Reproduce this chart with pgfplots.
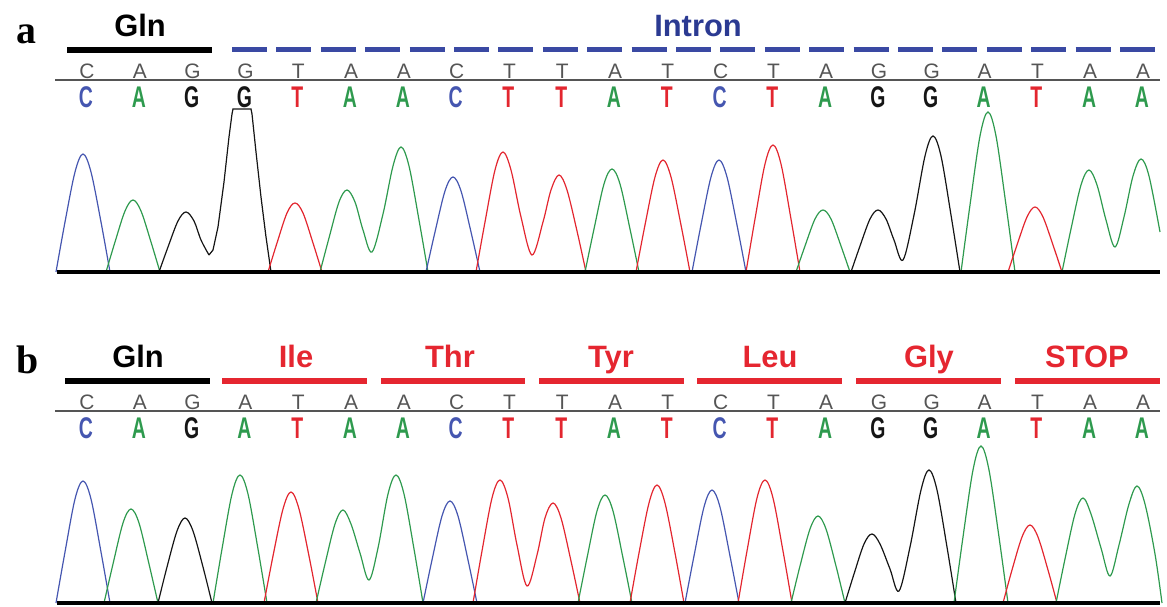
\documentclass[border=0pt]{standalone}
\usepackage{pgfplots}
\pgfplotsset{compat=1.18}
\usepackage{fontspec}
\setmainfont{Liberation Sans}
\newfontfamily\lserif{Liberation Serif}
\newfontfamily\condfont{Liberation Sans}[FakeStretch=0.65]
\definecolor{cA}{HTML}{2E9A4E}
\definecolor{cC}{HTML}{4556B0}
\definecolor{cG}{HTML}{151515}
\definecolor{cT}{HTML}{E3262F}
\definecolor{ibar}{HTML}{3A49A3}
\definecolor{itext}{HTML}{2B3A92}
\definecolor{rbar}{HTML}{E52630}
\definecolor{tgray}{HTML}{555555}
\pgfplotsset{pk/.style={smooth, tension=0.55, line width=1.2bp, no markers},
  pks/.style={sharp plot, line width=1.2bp, no markers}}
\newcommand\TL[3]{\node[anchor=base, inner sep=0pt, text=tgray, font=\fontsize{21}{21}\selectfont] at (axis cs:#1,#2) {#3};}
\newcommand\CL[4]{\node[anchor=base, inner sep=0pt, text=#4, font=\condfont\bfseries\fontsize{30}{30}\selectfont] at (axis cs:#1,#2) {#3};}
\begin{document}
\begin{tikzpicture}
\useasboundingbox (0,0) rectangle (1167bp,607bp);
% ---------------- canvas: labels, bars, sequence rows ----------------
\begin{axis}[at={(0,0)}, anchor=south west, x=1bp, y=1bp, y dir=reverse,
  xmin=0, xmax=1167, ymin=0, ymax=607, hide axis, clip=false]
% panel labels
\node[anchor=base, inner sep=0pt, font=\lserif\bfseries\fontsize{40}{40}\selectfont] at (axis cs:26,43) {a};
\node[anchor=base, inner sep=0pt, font=\lserif\bfseries\fontsize{40}{40}\selectfont] at (axis cs:28,373) {b};
% panel a codon labels and bars
\node[anchor=base, inner sep=0pt, font=\bfseries\fontsize{31}{31}\selectfont] at (axis cs:140,36) {Gln};
\node[anchor=base, inner sep=0pt, text=itext, font=\bfseries\fontsize{31}{31}\selectfont] at (axis cs:698,36) {Intron};
\addplot[black, line width=6bp] coordinates {(67,50) (212,50)};
\addplot[ibar, line width=5bp, dash pattern=on 35bp off 9.4bp] coordinates {(232,49) (1160,49)};
% panel b codon labels and bars
\node[anchor=base, inner sep=0pt, font=\bfseries\fontsize{31}{31}\selectfont] at (axis cs:138,367) {Gln};
\node[anchor=base, inner sep=0pt, text=rbar, font=\bfseries\fontsize{31}{31}\selectfont] at (axis cs:296,367) {Ile};
\node[anchor=base, inner sep=0pt, text=rbar, font=\bfseries\fontsize{31}{31}\selectfont] at (axis cs:450,367) {Thr};
\node[anchor=base, inner sep=0pt, text=rbar, font=\bfseries\fontsize{31}{31}\selectfont] at (axis cs:611,367) {Tyr};
\node[anchor=base, inner sep=0pt, text=rbar, font=\bfseries\fontsize{31}{31}\selectfont] at (axis cs:770,367) {Leu};
\node[anchor=base, inner sep=0pt, text=rbar, font=\bfseries\fontsize{31}{31}\selectfont] at (axis cs:929,367) {Gly};
\node[anchor=base, inner sep=0pt, text=rbar, font=\bfseries\fontsize{31}{31}\selectfont] at (axis cs:1087,367) {STOP};
\addplot[black, line width=6bp] coordinates {(65,381) (210,381)};
\addplot[rbar, line width=6bp] coordinates {(222,381) (367,381)};
\addplot[rbar, line width=6bp] coordinates {(381,381) (525,381)};
\addplot[rbar, line width=6bp] coordinates {(539,381) (684,381)};
\addplot[rbar, line width=6bp] coordinates {(697,381) (842,381)};
\addplot[rbar, line width=6bp] coordinates {(856,381) (1001,381)};
\addplot[rbar, line width=6bp] coordinates {(1015,381) (1160,381)};
% thin separator lines
\addplot[tgray, line width=1.1bp] coordinates {(55,80) (1160,80)};
\addplot[tgray, line width=1.1bp] coordinates {(55,411) (1160,411)};
% panel a reference row
\TL{87}{78}{C}\TL{139.8}{78}{A}\TL{192.6}{78}{G}\TL{245.4}{78}{G}\TL{298.2}{78}{T}\TL{351}{78}{A}\TL{403.8}{78}{A}
\TL{456.6}{78}{C}\TL{509.4}{78}{T}\TL{562.2}{78}{T}\TL{615}{78}{A}\TL{667.8}{78}{T}\TL{720.6}{78}{C}\TL{773.4}{78}{T}
\TL{826.2}{78}{A}\TL{879}{78}{G}\TL{931.8}{78}{G}\TL{984.6}{78}{A}\TL{1037.4}{78}{T}\TL{1090.2}{78}{A}\TL{1143}{78}{A}
% panel a called row
\CL{86}{107}{C}{cC}\CL{138.8}{107}{A}{cA}\CL{191.6}{107}{G}{cG}\CL{244.4}{107}{G}{cG}\CL{297.2}{107}{T}{cT}\CL{350}{107}{A}{cA}\CL{402.8}{107}{A}{cA}
\CL{455.6}{107}{C}{cC}\CL{508.4}{107}{T}{cT}\CL{561.2}{107}{T}{cT}\CL{614}{107}{A}{cA}\CL{666.8}{107}{T}{cT}\CL{719.6}{107}{C}{cC}\CL{772.4}{107}{T}{cT}
\CL{825.2}{107}{A}{cA}\CL{878}{107}{G}{cG}\CL{930.8}{107}{G}{cG}\CL{983.6}{107}{A}{cA}\CL{1036.4}{107}{T}{cT}\CL{1089.2}{107}{A}{cA}\CL{1142}{107}{A}{cA}
% panel b reference row
\TL{87}{409}{C}\TL{139.8}{409}{A}\TL{192.6}{409}{G}\TL{245.4}{409}{A}\TL{298.2}{409}{T}\TL{351}{409}{A}\TL{403.8}{409}{A}
\TL{456.6}{409}{C}\TL{509.4}{409}{T}\TL{562.2}{409}{T}\TL{615}{409}{A}\TL{667.8}{409}{T}\TL{720.6}{409}{C}\TL{773.4}{409}{T}
\TL{826.2}{409}{A}\TL{879}{409}{G}\TL{931.8}{409}{G}\TL{984.6}{409}{A}\TL{1037.4}{409}{T}\TL{1090.2}{409}{A}\TL{1143}{409}{A}
% panel b called row
\CL{86}{438}{C}{cC}\CL{138.8}{438}{A}{cA}\CL{191.6}{438}{G}{cG}\CL{244.4}{438}{A}{cA}\CL{297.2}{438}{T}{cT}\CL{350}{438}{A}{cA}\CL{402.8}{438}{A}{cA}
\CL{455.6}{438}{C}{cC}\CL{508.4}{438}{T}{cT}\CL{561.2}{438}{T}{cT}\CL{614}{438}{A}{cA}\CL{666.8}{438}{T}{cT}\CL{719.6}{438}{C}{cC}\CL{772.4}{438}{T}{cT}
\CL{825.2}{438}{A}{cA}\CL{878}{438}{G}{cG}\CL{930.8}{438}{G}{cG}\CL{983.6}{438}{A}{cA}\CL{1036.4}{438}{T}{cT}\CL{1089.2}{438}{A}{cA}\CL{1142}{438}{A}{cA}
\end{axis}
% ---------------- panel a trace ----------------
\begin{axis}[at={(0,335bp)}, anchor=south west, x=1bp, y=1bp,
  xmin=0, xmax=1167, ymin=0, ymax=250, hide axis, clip=false]
\addplot[pk, cC] coordinates {(56,0)(65,50)(75,100)(83,118)(91,100)(101,50)(110,0)};
\addplot[pk, cA] coordinates {(106,0)(115,30)(125,61)(133,72)(141,61)(151,30)(160,0)};
\addplot[pk, cG] coordinates {(159,0)(168,25)(178,51)(186,60)(194,51)(201,32)(209,17)};
\addplot[pks, cG] coordinates {(209,17)(213,22)(218,45)(224,90)(229,135)(232,158)(233,163)(251,163)(252,158)(256,120)(261,75)(266,35)(271,0)};
\addplot[pk, cT] coordinates {(268,0)(277,29)(287,59)(295,69)(303,59)(313,29)(322,0)};
\addplot[pk, cA] coordinates {(320,0)(329,34)(339,70)(347,82)(355,70)(363,42)(372,20)(383,58)(393,106)(401,125)(409,106)(419,52)(428,0)};
\addplot[pk, cC] coordinates {(426,0)(435,40)(445,81)(453,95)(461,81)(471,40)(480,0)};
\addplot[pk, cT] coordinates {(476,0)(485,50)(495,102)(503,120)(511,102)(521,55)(532,17)(543,50)(551,82)(559,97)(567,82)(577,41)(586,0)};
\addplot[pk, cA] coordinates {(585,0)(594,43)(604,88)(612,103)(620,88)(630,43)(639,0)};
\addplot[pk, cT] coordinates {(636,0)(645,47)(655,95)(663,112)(671,95)(681,47)(690,0)};
\addplot[pk, cC] coordinates {(692,0)(701,47)(711,95)(719,112)(727,95)(737,47)(746,0)};
\addplot[pk, cT] coordinates {(746,0)(755,53)(765,108)(773,127)(781,108)(791,53)(800,0)};
\addplot[pk, cA] coordinates {(796,0)(805,26)(815,53)(823,62)(831,53)(841,26)(850,0)};
\addplot[pk, cG] coordinates {(851,0)(860,26)(870,53)(878,62)(886,53)(894,32)(903,12)(914,57)(925,116)(933,136)(941,116)(951,57)(960,0)};
\addplot[pk, cA] coordinates {(961,0)(970,67)(980,136)(988,160)(996,136)(1006,67)(1015,0)};
\addplot[pk, cT] coordinates {(1008,0)(1017,27)(1027,55)(1035,65)(1043,55)(1053,27)(1062,0)};
\addplot[pk, cA] coordinates {(1062,0)(1071,43)(1081,87)(1089,102)(1097,87)(1106,52)(1115,25)(1124,55)(1133,96)(1141,113)(1149,96)(1160,40)};
\addplot[black, line width=4bp] coordinates {(57,0) (1160,0)};
\end{axis}
% ---------------- panel b trace ----------------
\begin{axis}[at={(0,4bp)}, anchor=south west, x=1bp, y=1bp,
  xmin=0, xmax=1167, ymin=0, ymax=250, hide axis, clip=false]
\addplot[pk, cC] coordinates {(56,0)(65,51)(75,104)(83,122)(91,104)(101,51)(110,0)};
\addplot[pk, cA] coordinates {(104,0)(113,39)(123,80)(131,94)(139,80)(149,39)(158,0)};
\addplot[pk, cG] coordinates {(158,0)(167,36)(177,72)(185,85)(193,72)(203,36)(212,0)};
\addplot[pk, cA] coordinates {(213,0)(222,54)(232,109)(240,128)(248,109)(258,54)(267,0)};
\addplot[pk, cT] coordinates {(264,0)(273,47)(283,94)(291,111)(299,94)(309,47)(318,0)};
\addplot[pk, cA] coordinates {(316,0)(325,39)(335,79)(343,93)(351,79)(360,50)(369,23)(378,55)(388,109)(396,128)(404,109)(414,54)(423,0)};
\addplot[pk, cC] coordinates {(423,0)(432,43)(442,87)(450,102)(458,87)(468,43)(477,0)};
\addplot[pk, cT] coordinates {(473,0)(482,52)(492,105)(500,123)(508,105)(517,58)(527,17)(537,48)(545,85)(553,100)(561,85)(571,42)(580,0)};
\addplot[pk, cA] coordinates {(578,0)(587,45)(597,92)(605,108)(613,92)(623,45)(632,0)};
\addplot[pk, cT] coordinates {(630,0)(639,50)(649,100)(657,118)(665,100)(675,50)(684,0)};
\addplot[pk, cC] coordinates {(685,0)(694,47)(704,96)(712,113)(720,96)(730,47)(739,0)};
\addplot[pk, cT] coordinates {(738,0)(747,52)(757,105)(765,123)(773,105)(783,52)(792,0)};
\addplot[pk, cA] coordinates {(791,0)(800,37)(810,74)(818,87)(826,74)(836,37)(845,0)};
\addplot[pk, cG] coordinates {(845,0)(854,29)(864,59)(872,69)(880,59)(890,34)(899,12)(910,56)(921,113)(929,133)(937,113)(947,56)(956,0)};
\addplot[pk, cA] coordinates {(954,0)(963,66)(973,133)(981,157)(989,133)(999,66)(1008,0)};
\addplot[pk, cT] coordinates {(1003,0)(1012,33)(1022,66)(1030,78)(1038,66)(1048,33)(1057,0)};
\addplot[pk, cA] coordinates {(1056,0)(1065,44)(1075,89)(1083,105)(1091,89)(1101,55)(1110,27)(1119,58)(1129,99)(1137,117)(1145,99)(1155,49)(1162,0)};
\addplot[black, line width=4bp] coordinates {(57,0) (1160,0)};
\end{axis}
\end{tikzpicture}
\end{document}
